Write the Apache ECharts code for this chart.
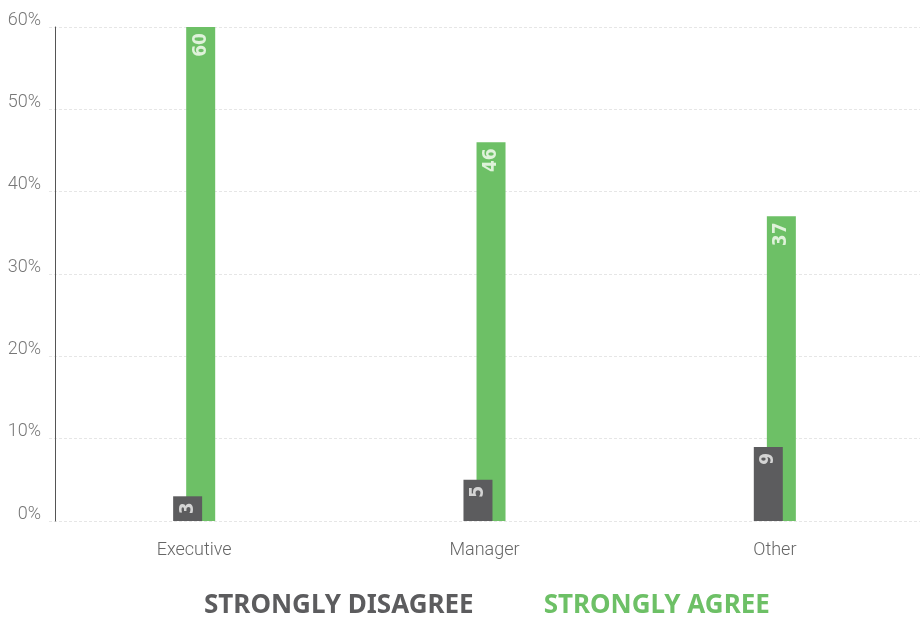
<!DOCTYPE html>
<html>
<head>
<meta charset="utf-8">
<script src="https://cdn.jsdelivr.net/npm/echarts@6/dist/echarts.min.js"></script>
<style>html,body{margin:0;padding:0;background:#fff}#c{width:920px;height:620px}</style>
</head>
<body>
<div id="c"></div>
<script>
const categories = ['Executive', 'Manager', 'Other'];
const stronglyDisagree = [3, 5, 9];
const stronglyAgree = [60, 46, 37];
const yTicks = [0, 10, 20, 30, 40, 50, 60];

const thinFont = "Roboto, 'DejaVu Sans Condensed', sans-serif";
const boldFont = "'DejaVu Sans Condensed', Roboto, sans-serif";

const chart = echarts.init(document.getElementById('c'));
chart.setOption({
  animation: false,
  grid: { left: 49, right: -5, top: 27, bottom: 99 },
  legend: {
    top: 588,
    left: 194,
    itemWidth: 0,
    itemHeight: 0,
    itemGap: 65,
    icon: 'rect',
    selectedMode: false,
    data: [
      { name: 'STRONGLY DISAGREE', textStyle: { color: '#5c5c5e' } },
      { name: 'STRONGLY AGREE', textStyle: { color: '#6dc066' } }
    ],
    textStyle: { fontFamily: "'Noto Sans', sans-serif", fontWeight: 'bold', fontSize: 26 }
  },
  xAxis: {
    type: 'category',
    data: categories,
    axisLine: { show: false },
    axisTick: { show: false },
    axisLabel: { color: '#666', fontSize: 18, fontWeight: 300, fontFamily: thinFont, margin: 20 }
  },
  yAxis: {
    type: 'value',
    min: 0, max: 60, interval: 10,
    offset: -6,
    axisLine: { show: true, lineStyle: { color: '#555', width: 1 } },
    axisTick: { show: false },
    splitLine: { show: true, lineStyle: { color: '#e6e6e6', type: [3, 2] } },
    axisLabel: {
      color: '#777', fontSize: 18, fontWeight: 300, fontFamily: thinFont, margin: 14,
      verticalAlign: 'bottom', lineHeight: 14,
      formatter: v => yTicks.includes(v) ? v + '%' : ''
    }
  },
  series: [
    {
      name: 'STRONGLY DISAGREE',
      type: 'bar',
      data: stronglyDisagree,
      barWidth: 29,
      barGap: '-55%',
      z: 3,
      itemStyle: { color: '#5c5c5e' },
      label: {
        show: true, position: 'insideTop', rotate: 90, align: 'right', verticalAlign: 'middle',
        distance: 6, color: '#d4d4d4', fontWeight: 'bold', fontSize: 19, fontFamily: boldFont
      }
    },
    {
      name: 'STRONGLY AGREE',
      type: 'bar',
      data: stronglyAgree,
      barWidth: 29,
      barGap: '-55%',
      z: 2,
      itemStyle: { color: '#6dc066' },
      label: {
        show: true, position: 'insideTop', rotate: 90, align: 'right', verticalAlign: 'middle',
        distance: 6, color: '#dff2da', fontWeight: 'bold', fontSize: 19, fontFamily: boldFont
      }
    }
  ]
});
</script>
</body>
</html>
